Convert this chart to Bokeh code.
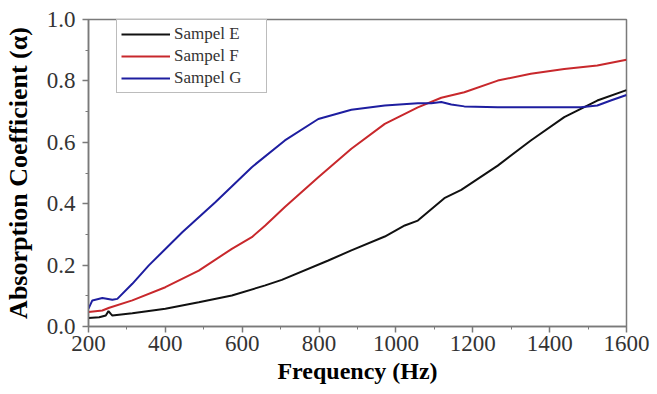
from bokeh.plotting import figure
from bokeh.models import FixedTicker, NumeralTickFormatter, Legend, LegendItem, Range1d
from bokeh.embed import file_html
from bokeh.resources import INLINE

# Sampel E (black)
freq_e = [200, 228, 245, 252, 258, 262, 314, 400, 487, 573, 660, 703, 824, 884, 971, 1023,
          1057, 1126, 1170, 1265, 1351, 1438, 1524, 1600]
abs_e = [0.028, 0.030, 0.036, 0.050, 0.041, 0.036, 0.043, 0.058, 0.079, 0.101, 0.134, 0.152,
         0.215, 0.248, 0.293, 0.329, 0.345, 0.418, 0.445, 0.524, 0.606, 0.682, 0.736, 0.770]

# Sampel F (red)
freq_f = [200, 236, 254, 314, 400, 487, 573, 625, 660, 711, 798, 884, 971, 1057, 1118,
          1178, 1265, 1351, 1438, 1524, 1600]
abs_f = [0.047, 0.052, 0.061, 0.085, 0.128, 0.182, 0.253, 0.291, 0.329, 0.389, 0.486, 0.579,
         0.660, 0.714, 0.745, 0.763, 0.801, 0.823, 0.839, 0.850, 0.869]

# Sampel G (blue)
freq_g = [200, 210, 236, 262, 275, 314, 357, 444, 530, 625, 711, 798, 884, 971, 1057, 1092,
          1118, 1144, 1178, 1265, 1351, 1481, 1524, 1559, 1600]
abs_g = [0.058, 0.085, 0.093, 0.087, 0.090, 0.139, 0.199, 0.307, 0.405, 0.519, 0.606, 0.676,
         0.706, 0.720, 0.727, 0.727, 0.731, 0.723, 0.717, 0.714, 0.714, 0.714, 0.720, 0.736, 0.754]

labels = ["Sampel E", "Sampel F", "Sampel G"]
colors = ["#111111", "#c8282c", "#1e1ea0"]

x_ticks = [200, 400, 600, 800, 1000, 1200, 1400, 1600]
x_minor = [300, 500, 700, 900, 1100, 1300, 1500]
y_ticks = [0.0, 0.2, 0.4, 0.6, 0.8, 1.0]
y_minor = [0.1, 0.3, 0.5, 0.7, 0.9]

SERIF = "Liberation Serif"
AXC = "#7a7a7a"

p = figure(width=657, height=394, output_backend="svg", toolbar_location=None,
           x_range=Range1d(200, 1600), y_range=Range1d(0, 1.0),
           min_border_left=86, min_border_top=19, min_border_right=31, min_border_bottom=68)
p.grid.visible = False
p.outline_line_color = AXC
p.outline_line_width = 1.5
p.background_fill_color = "white"
p.border_fill_color = "white"

renderers = []
for fx, ay, c in zip([freq_e, freq_f, freq_g], [abs_e, abs_f, abs_g], colors):
    r = p.line(fx, ay, line_color=c, line_width=2)
    renderers.append(r)

p.xaxis.ticker = FixedTicker(ticks=x_ticks, minor_ticks=x_minor)
p.yaxis.ticker = FixedTicker(ticks=y_ticks, minor_ticks=y_minor)
p.yaxis.formatter = NumeralTickFormatter(format="0.0")

for ax in (p.xaxis[0], p.yaxis[0]):
    ax.axis_line_color = AXC
    ax.axis_line_width = 1.5
    ax.major_tick_line_color = AXC
    ax.minor_tick_line_color = AXC
    ax.major_tick_line_width = 1.5
    ax.major_tick_out = 6
    ax.major_tick_in = 0
    ax.minor_tick_out = 3
    ax.minor_tick_in = 0
    ax.major_label_text_font = SERIF
    ax.major_label_text_font_size = "23px"
    ax.major_label_text_color = "#333333"
    ax.axis_label_text_font = SERIF
    ax.axis_label_text_font_style = "bold"
    ax.axis_label_text_color = "#000000"

p.xaxis.axis_label = "Frequency (Hz)"
p.yaxis.axis_label = "Absorption Coefficient (\u03b1)"
p.xaxis.axis_label_text_font_size = "24px"
p.yaxis.axis_label_text_font_size = "26px"
p.xaxis.major_label_standoff = 3
p.xaxis.axis_label_standoff = 4
p.yaxis.major_label_standoff = 7
p.yaxis.axis_label_standoff = 11

legend = Legend(items=[LegendItem(label=l, renderers=[r]) for l, r in zip(labels, renderers)],
                location=(28, 233))
legend.label_text_font = SERIF
legend.label_text_font_size = "17px"
legend.label_text_color = "#333333"
legend.glyph_width = 49
legend.glyph_height = 20
legend.label_height = 20
legend.label_width = 88
legend.label_standoff = 4
legend.spacing = 2
legend.padding = 4
legend.margin = 0
legend.border_line_color = AXC
legend.border_line_width = 1.5
legend.background_fill_alpha = 1.0
p.add_layout(legend)

open("out.html", "w").write(file_html(p, INLINE))
